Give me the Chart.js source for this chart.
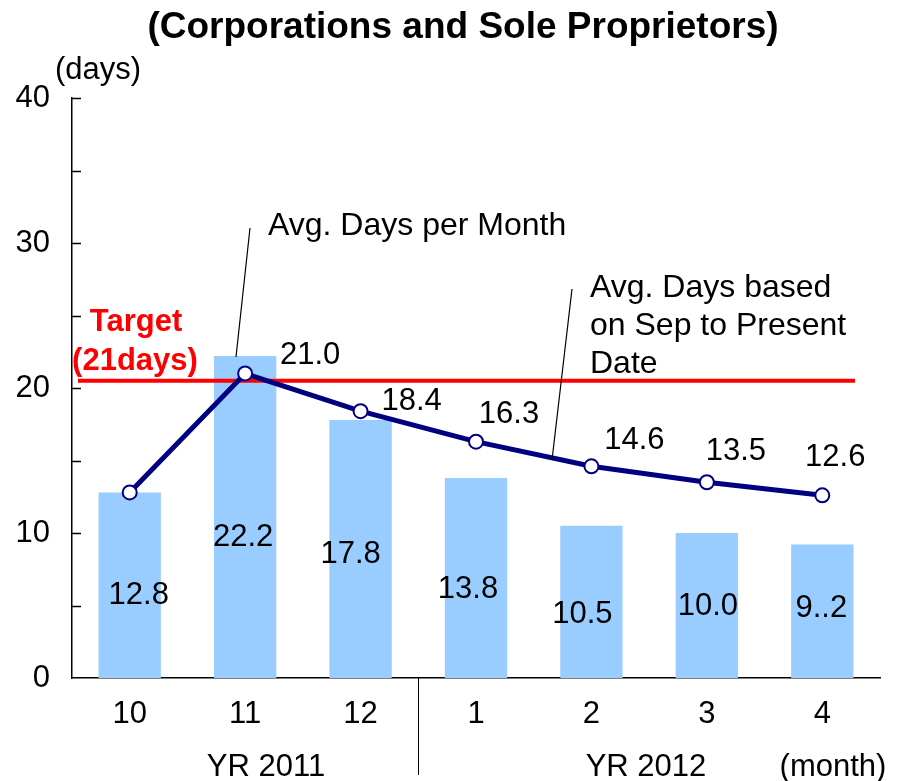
<!DOCTYPE html>
<html>
<head>
<meta charset="utf-8">
<script src="https://cdn.jsdelivr.net/npm/chart.js@4.4.0/dist/chart.umd.min.js"></script>
<style>
    html, body { margin: 0; padding: 0; background: #fff; }
    #wrap { width: 904px; height: 781px; }
</style>
</head>
<body>
<div id="wrap"><canvas id="chart" width="904" height="781"></canvas></div>
<script>
// --------------------------------------------------------------------
// DATA
// --------------------------------------------------------------------
const months = ["10", "11", "12", "1", "2", "3", "4"];
const perMonth = [12.8, 22.2, 17.8, 13.8, 10.5, 10.0, 9.2];
const perMonthText = ["12.8", "22.2", "17.8", "13.8", "10.5", "10.0", "9..2"];
const cumulative = [12.8, 21.0, 18.4, 16.3, 14.6, 13.5, 12.6];
const cumulativeText = ["", "21.0", "18.4", "16.3", "14.6", "13.5", "12.6"];
const yearLabels = ["YR 2011", "YR 2012"];
const targetDays = 20.5;

const FONT = "Arial, 'Liberation Sans', sans-serif";

// --------------------------------------------------------------------
// DECORATIONS (target line, labels, notes)
// --------------------------------------------------------------------
const decor = {
    id: "decor",
    afterDatasetDraw(chart, args, opts) {
        if (args.index !== 0) return;
        const { ctx, chartArea, scales: { y } } = chart;
        const py = y.getPixelForValue(targetDays);
        ctx.save();
        ctx.strokeStyle = "#ff0000";
        ctx.lineWidth = 4;
        ctx.beginPath();
        ctx.moveTo(chartArea.left + 6, py);
        ctx.lineTo(chartArea.right - 25, py);
        ctx.stroke();
        ctx.restore();
    },
    afterDraw(chart, args, opts) {
        const { ctx, chartArea, scales: { x, y } } = chart;
        ctx.save();

        // inner ticks on the y axis
        ctx.strokeStyle = "#000";
        ctx.lineWidth = 1.5;
        for (let v = 5; v <= 40; v += 5) {
            const py = Math.round(y.getPixelForValue(v)) + 0.5;
            ctx.beginPath();
            ctx.moveTo(chartArea.left, py);
            ctx.lineTo(chartArea.left + 9, py);
            ctx.stroke();
        }

        // divider between years
        const divX = Math.round((x.getPixelForValue(2) + x.getPixelForValue(3)) / 2) + 0.5;
        ctx.lineWidth = 1;
        ctx.beginPath();
        ctx.moveTo(divX, chartArea.bottom);
        ctx.lineTo(divX, chartArea.bottom + 97);
        ctx.stroke();

        ctx.fillStyle = "#000";
        ctx.textBaseline = "middle";

        // bar value labels
        ctx.font = "31px " + FONT;
        ctx.textAlign = "center";
        perMonthText.forEach((t, i) => {
            ctx.fillText(t, x.getPixelForValue(i) + opts.barDx[i], y.getPixelForValue(opts.barAt[i]));
        });

        // line value labels
        cumulativeText.forEach((t, i) => {
            if (!t) return;
            const px = x.getPixelForValue(i) + opts.lineDx[i];
            const py = y.getPixelForValue(cumulative[i]) + opts.lineDy[i];
            ctx.fillText(t, px, py);
        });

        // title
        ctx.font = "bold 37px " + FONT;
        ctx.fillText("(Corporations and Sole Proprietors)", 463, 28);

        // unit labels
        ctx.font = "31px " + FONT;
        ctx.fillText("(days)", 98, 70);
        ctx.fillText("(month)", 833, 767);
        ctx.fillText(yearLabels[0], 266, 767);
        ctx.fillText(yearLabels[1], 646, 767);

        // target text
        ctx.fillStyle = "#ff0000";
        ctx.font = "bold 31px " + FONT;
        ctx.fillText("Target", 136, 322);
        ctx.fillText("(21days)", 135, 361);

        // notes with leader lines
        ctx.fillStyle = "#000";
        ctx.font = "32px " + FONT;
        ctx.textAlign = "left";
        ctx.fillText("Avg. Days per Month", 268, 226);
        ctx.fillText("Avg. Days based", 590, 288);
        ctx.fillText("on Sep to Present", 590, 326);
        ctx.fillText("Date", 590, 364);

        ctx.lineWidth = 1.2;
        ctx.beginPath();
        ctx.moveTo(250, 228);
        ctx.lineTo(236, 357);
        ctx.moveTo(572, 289);
        ctx.lineTo(552, 460);
        ctx.stroke();

        ctx.restore();
    }
};

// --------------------------------------------------------------------
// CHART
// --------------------------------------------------------------------
const ctx = document.getElementById("chart").getContext("2d");

new Chart(ctx, {
    data: {
        labels: months,
        datasets: [
            {
                type: "bar",
                label: "Avg. Days per Month",
                data: perMonth,
                backgroundColor: "#99ccff",
                barPercentage: 0.54,
                categoryPercentage: 1,
                order: 2
            },
            {
                type: "line",
                label: "Avg. Days based on Sep to Present Date",
                data: cumulative,
                borderColor: "#000080",
                borderWidth: 5,
                pointRadius: 7,
                pointBorderWidth: 2,
                pointBackgroundColor: "#ffffff",
                pointBorderColor: "#000080",
                tension: 0,
                order: 1
            }
        ]
    },
    options: {
        responsive: false,
        animation: false,
        layout: { padding: { left: 0, top: 98, right: 24, bottom: 0 } },
        plugins: {
            legend: { display: false },
            tooltip: { enabled: false },
            decor: {
                barAt: [5.7, 9.7, 8.5, 6.1, 4.4, 4.9, 4.8],
                barDx: [9, -2, -10, -8, -9, 1, -1],
                lineDx: [0, 65, 51, 33, 43, 29, 13],
                lineDy: [0, -18, -10, -27, -26, -31, -38]
            }
        },
        scales: {
            x: {
                grid: { display: false, drawTicks: false },
                border: { display: true, color: "#000", width: 1.5 },
                ticks: { color: "#000", font: { family: FONT, size: 31 }, padding: 18 },
                afterFit: s => { s.height = 103; }
            },
            y: {
                min: 0,
                max: 40,
                grid: { display: false, drawTicks: false },
                border: { display: true, color: "#000", width: 1.5 },
                ticks: { stepSize: 10, color: "#000", font: { family: FONT, size: 31 }, padding: 22 },
                afterFit: s => { s.width = 72; }
            }
        }
    },
    plugins: [decor]
});
</script>
</body>
</html>
